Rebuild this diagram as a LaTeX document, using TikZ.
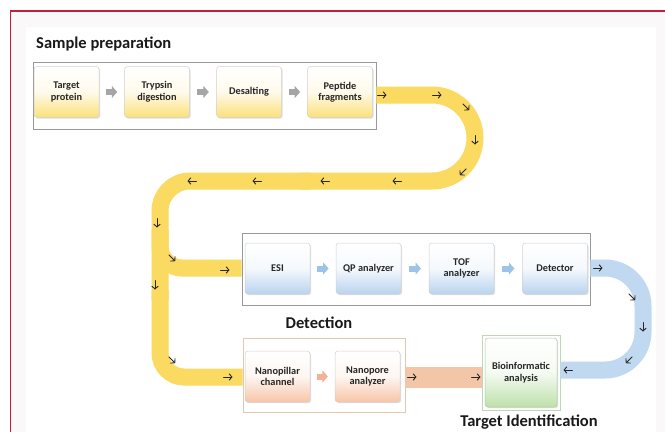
\documentclass[tikz,border=0pt]{standalone}
\usepackage{fontspec}
\setmainfont{Carlito}
\usetikzlibrary{arrows.meta,shadows,calc}
\definecolor{framered}{RGB}{200,28,60}
\definecolor{bgpink}{RGB}{251,248,249}
\definecolor{yband}{RGB}{250,218,96}
\definecolor{bband}{RGB}{192,217,240}
\definecolor{oband}{RGB}{243,198,167}
\definecolor{ybot}{RGB}{251,224,120}
\definecolor{bbot}{RGB}{185,211,238}
\definecolor{obot}{RGB}{247,196,166}
\definecolor{gbot}{RGB}{190,224,170}
\definecolor{txt}{RGB}{38,38,38}
\definecolor{garrow}{RGB}{165,165,165}
\definecolor{barrow}{RGB}{157,195,230}
\definecolor{oarrow}{RGB}{244,177,150}
\definecolor{nanoframe}{RGB}{225,200,175}
\definecolor{bioframe}{RGB}{190,215,180}
\definecolor{bioedge}{RGB}{170,205,160}
\tikzset{
  frame/.style={draw=#1, line width=0.8pt, fill=white, inner sep=0pt},
  stepbox/.style={draw=black!18, line width=0.5pt, rounded corners=3pt,
    top color=white, bottom color=#1, middle color=#1!15!white,
    align=center, text=txt,
    font=\bfseries\fontsize{10.3}{11.5}\selectfont,
    minimum width=65pt, minimum height=51pt, inner sep=1pt,
    drop shadow={shadow xshift=1.2pt, shadow yshift=-1.2pt, opacity=0.25}},
  band/.style={line width=#1, line cap=butt},
  blockarrow/.style={line width=6pt, #1, -{Triangle[length=5.5pt,width=12pt]}},
  title/.style={font=\bfseries\fontsize{16.5}{18}\selectfont, text=black!90, inner sep=0pt},
  flowmark/.pic={\draw[line width=0.9pt, black!85, line cap=round,
    -{Straight Barb[length=2.8pt,width=6.5pt]}] (-4.5,0) -- (4.5,0);}
}
\begin{document}
\begin{tikzpicture}[x=1pt,y=-1pt]
\useasboundingbox (0,0) rectangle (665,432);
\fill[bgpink] (11,11) rectangle (665,432);
\fill[white] (26,27) rectangle (656,432);
\draw[framered, line width=1.3pt] (10.5,432) -- (10.5,11) -- (665,11);

% frames
\node[frame=black!40, minimum width=343pt, minimum height=67pt] (spframe) at (204.5,95.5) {};
\node[frame=black!40, minimum width=348pt, minimum height=72pt] (detframe) at (416,269) {};
\node[frame=nanoframe, minimum width=162pt, minimum height=74pt] (nanofr) at (324,375) {};
\node[frame=bioframe, minimum width=78pt, minimum height=75pt] (biofr) at (521,372.5) {};

% titles
\node[title, anchor=west] (t1) at (36,44) {Sample preparation};
\node[title] (t2) at (319,323) {Detection};
\node[title] (t3) at (529,422) {Target Identification};

% yellow band
\draw[band=17pt, yband, rounded corners=43pt] (spframe.east |- 0,95) -- (475,95) -- (475,181) -- (300,181);
\draw[band=17pt, yband, rounded corners=30pt] (310,181) -- (160,181) -- (160,300);
\draw[band=17pt, yband, rounded corners=24pt] (160,290) -- (160,377) -- (nanofr.west |- 0,377);
\draw[band=17pt, yband, rounded corners=22pt] (160,230) -- (160,268) -- (detframe.west |- 0,268);
% blue band
\draw[band=17pt, bband, rounded corners=38pt] (detframe.east |- 0,268) -- (643,268) -- (643,370) -- (biofr.east |- 0,370);
% orange band
\draw[band=21pt, oband] (nanofr.east |- 0,377) -- (biofr.west |- 0,377);

% flow marks
\foreach \px/\py/\a in {382/95/0, 437/95/0, 466/107/-45, 475/140/-90, 463/172/-135,
  397/181/180, 325/181/180, 257/181/180, 192/181/180,
  157/223/-90, 172/258/-45, 225/270/0, 155/285/-90, 172/360/-45, 228/377/0,
  598/268/0, 632/297/-45, 643/327/-90, 629/360/-135, 568/370/180,
  412/377/0, 476/377/0}
  {\pic[rotate=\a] at (\px,\py) {flowmark};}

% sample preparation boxes
\node[stepbox=ybot] (tp) at (66.5,92) {Target\\protein};
\node[stepbox=ybot] (td) at (157,92) {Trypsin\\digestion};
\node[stepbox=ybot] (ds) at (249,92) {Desalting};
\node[stepbox=ybot] (pf) at (340,92) {Peptide\\fragments};
% detection boxes
\node[stepbox=bbot] (esi) at (277.5,268.5) {ESI};
\node[stepbox=bbot] (qp) at (368.5,268.5) {QP analyzer};
\node[stepbox=bbot] (tof) at (461.5,268.5) {TOF\\analyzer};
\node[stepbox=bbot] (det) at (555,268.5) {Detector};
% nano boxes
\node[stepbox=obot] (np) at (277.5,376.5) {Nanopillar\\channel};
\node[stepbox=obot] (na) at (367.5,376.5) {Nanopore\\analyzer};
% bio
\node[stepbox=gbot, draw=bioedge, minimum width=72pt, minimum height=69pt] (bio) at (521,372.5) {Bioinformatic\\analysis};

% block arrows
\foreach \a/\b in {tp/td, td/ds, ds/pf}
  \draw[blockarrow=garrow] ($(\a.east)!0.28!(\b.west)$) -- ($(\a.east)!0.72!(\b.west)$);
\foreach \a/\b in {esi/qp, qp/tof, tof/det}
  \draw[blockarrow=barrow] ($(\a.east)!0.28!(\b.west)$) -- ($(\a.east)!0.72!(\b.west)$);
\draw[blockarrow=oarrow] ($(np.east)!0.28!(na.west)$) -- ($(np.east)!0.72!(na.west)$);
\end{tikzpicture}
\end{document}
